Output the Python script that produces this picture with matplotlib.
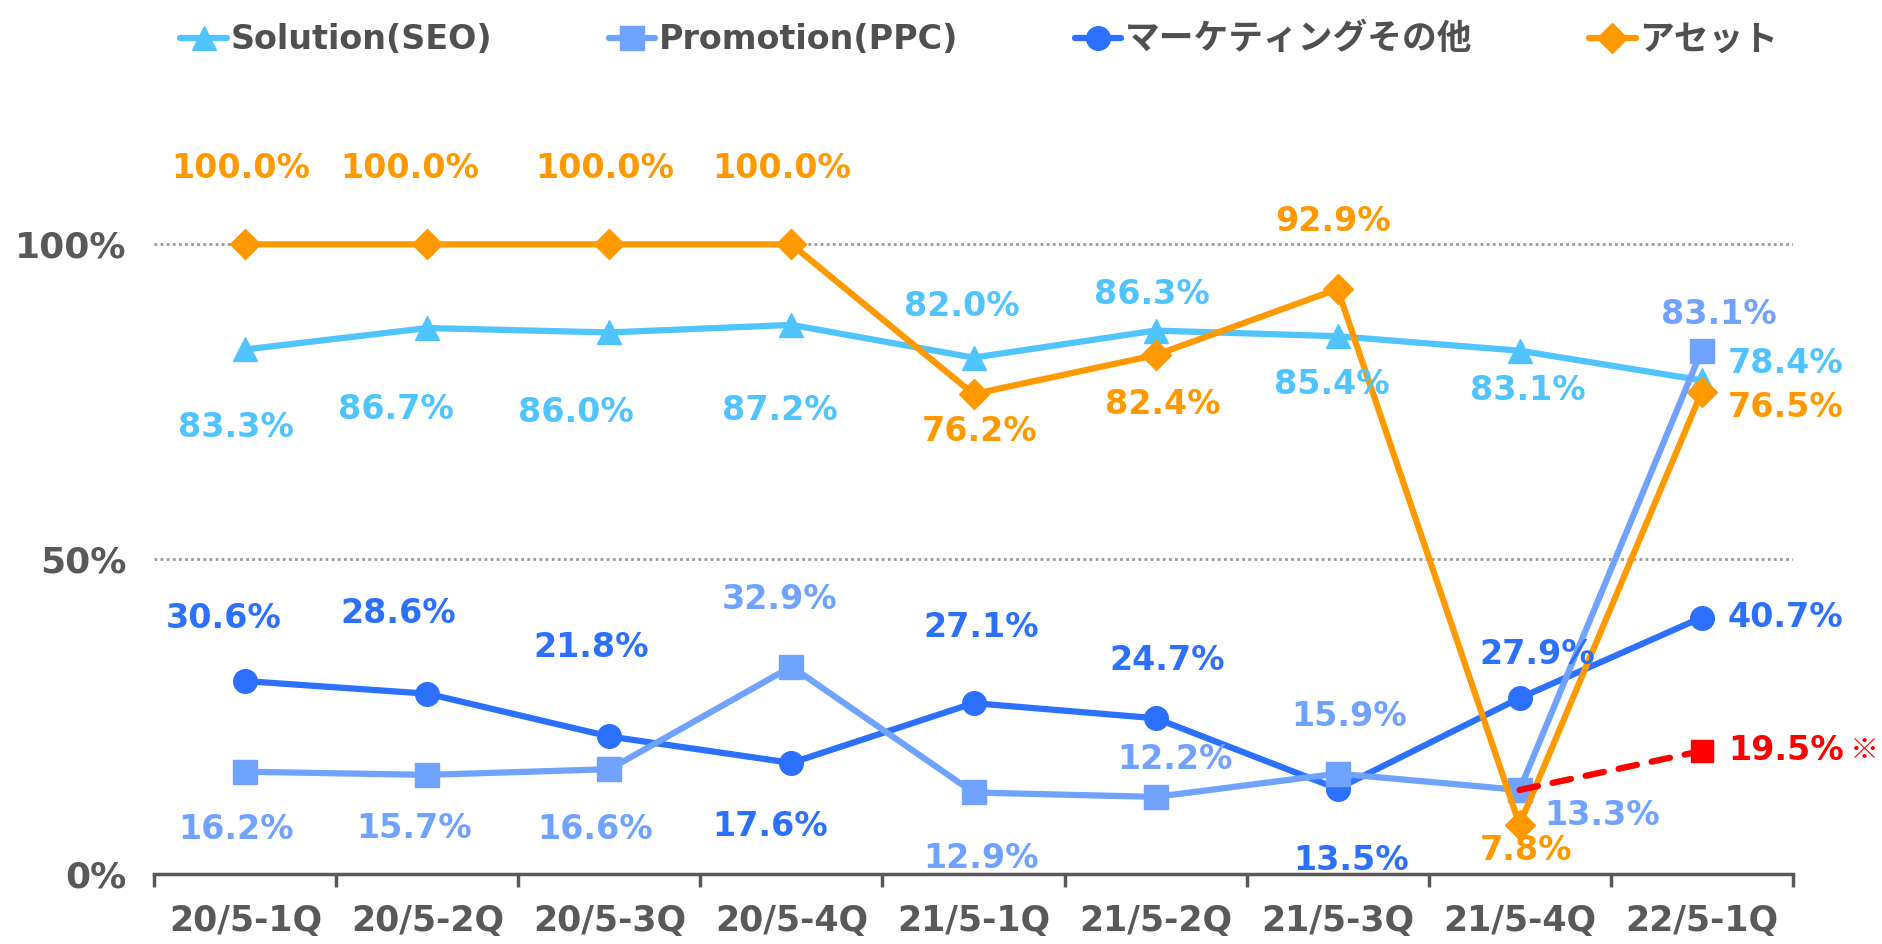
import numpy as np
import matplotlib.pyplot as plt

plt.rcParams['font.family'] = ['DejaVu Sans', 'Noto Sans CJK JP']
plt.rcParams['font.weight'] = 'bold'

quarters = ['20/5-1Q', '20/5-2Q', '20/5-3Q', '20/5-4Q', '21/5-1Q',
            '21/5-2Q', '21/5-3Q', '21/5-4Q', '22/5-1Q']
seo = [83.3, 86.7, 86.0, 87.2, 82.0, 86.3, 85.4, 83.1, 78.4]
ppc = [16.2, 15.7, 16.6, 32.9, 12.9, 12.2, 15.9, 13.3, 83.1]
marketing = [30.6, 28.6, 21.8, 17.6, 27.1, 24.7, 13.5, 27.9, 40.7]
asset = [100.0, 100.0, 100.0, 100.0, 76.2, 82.4, 92.9, 7.8, 76.5]
ppc_adj = [13.3, 19.5]   # 21/5-4Q -> 22/5-1Q (※)

# label offsets (dx, dy) in screen px, y positive = up
seo_off = [(-8, -65), (-26, -68), (-28, -67), (-10, -71), (-10, 43),
           (-3, 30), (-5, -40), (7, -33), (70, 14)]
ppc_off = [(-8, -48), (-11, -45), (-12, -50), (-10, 56), (6, -55),
           (16, 31), (10, 48), (69, -21), (14, 30)]
mkt_off = [(-18, 52), (-24, 67), (-15, 74), (-18, -53), (6, 63),
           (10, 48), (11, -60), (15, 36), (70, 0)]
asset_off = [(-4, 63), (-15, 63), (-4, 63), (-8, 63), (5, -31),
             (6, -41), (-4, 56), (5, -22), (70, -13)]

c_seo = '#4FC4FF'
c_ppc = '#70A2FF'
c_mkt = '#2B70FF'
c_asset = '#FF9900'
c_red = '#FF0000'
gray = '#595959'

fig = plt.figure(figsize=(18.83, 9.44), dpi=100)
ax = fig.add_axes([0.082, 0.0745, 0.870, 0.80])
x = np.arange(len(quarters))
S = 1.2

series = [
    ('Solution(SEO)', seo, c_seo, '^', seo_off),
    ('Promotion(PPC)', ppc, c_ppc, 's', ppc_off),
    ('マーケティングその他', marketing, c_mkt, 'o', mkt_off),
    ('アセット', asset, c_asset, 'D', asset_off),
]
zorders = [3, 5, 4, 6]
for (name, vals, col, mk, offs), z in zip(series, zorders):
    ms = 15 if mk == 'D' else 17
    ax.plot(x, vals, color=col, lw=4.5, marker=mk, ms=ms, label=name,
            zorder=z, solid_joinstyle='round', solid_capstyle='round')
    for xi, v, (dx, dy) in zip(x, vals, offs):
        ax.annotate(f'{v:.1f}%', (xi, v), xytext=(dx * S, dy * S),
                    textcoords='offset pixels', ha='center', va='center',
                    color=col, fontsize=24, fontweight='bold', zorder=10)

ax.plot(x[-2:], ppc_adj, color=c_red, lw=4.5, ls=(0, (3, 2.4)),
        dash_capstyle='round', marker='s', ms=16, markevery=[1], zorder=7)
ax.annotate(f'{ppc_adj[1]:.1f}%', (x[-1], ppc_adj[1]), xytext=(70 * S, 0),
            textcoords='offset pixels', ha='center', va='center',
            color=c_red, fontsize=24, fontweight='bold')
ax.annotate('※', (x[-1], ppc_adj[1]), xytext=(136 * S, 0),
            textcoords='offset pixels', ha='center', va='center',
            color=c_red, fontsize=21, fontweight='normal',
            family=['Noto Sans CJK JP', 'DejaVu Sans'])

ax.set_xlim(-0.5, len(quarters) - 0.5)
ax.set_ylim(0, 120)
ax.set_yticks([0, 50, 100])
ax.set_yticklabels(['0%', '50%', '100%'])
ax.set_xticks(x)
ax.set_xticklabels(quarters)
ax.set_xticks(np.arange(-0.5, len(quarters)), minor=True)
ax.tick_params(axis='x', which='major', length=0, pad=22, labelsize=25,
               labelcolor=gray)
ax.tick_params(axis='x', which='minor', length=9, width=2.5, color=gray)
ax.tick_params(axis='y', length=0, pad=20, labelsize=26, labelcolor=gray)
for t in ax.get_xticklabels() + ax.get_yticklabels():
    t.set_fontweight('bold')

for yv in [50, 100]:
    ax.axhline(yv, color='#999999', lw=2, ls=(0, (1, 1.2)), zorder=1)

for s in ['top', 'right', 'left']:
    ax.spines[s].set_visible(False)
ax.spines['bottom'].set_color(gray)
ax.spines['bottom'].set_linewidth(2.5)

leg = fig.legend(loc='upper center', bbox_to_anchor=(0.52, 1.008), ncol=4,
                 frameon=False, fontsize=24, handlelength=1.4,
                 handletextpad=0.1, columnspacing=3.5, labelcolor='#505050',
                 markerscale=1.0)
leg.get_texts()[2].set_fontsize(25)
leg.get_texts()[3].set_fontsize(25)

fig.savefig('out.png', dpi=100)
